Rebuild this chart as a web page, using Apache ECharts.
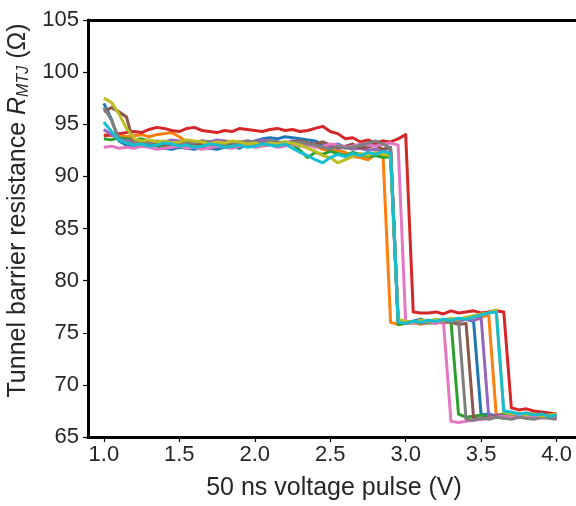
<!DOCTYPE html>
<html>
<head>
<meta charset="utf-8">
<script src="https://cdn.jsdelivr.net/npm/echarts@6/dist/echarts.min.js"></script>
<style>
  html, body { margin: 0; padding: 0; background: #fff; }
  #chart { width: 576px; height: 506px; }
</style>
</head>
<body>
<div id="chart"></div>
<script>
// Pulse amplitude (V) for each measurement step
const voltage = [
  1.00, 1.05, 1.10, 1.15, 1.20, 1.25, 1.30, 1.35, 1.40, 1.45,
  1.50, 1.55, 1.60, 1.65, 1.70, 1.75, 1.80, 1.85, 1.90, 1.95,
  2.00, 2.05, 2.10, 2.15, 2.20, 2.25, 2.30, 2.35, 2.40, 2.45,
  2.50, 2.55, 2.60, 2.65, 2.70, 2.75, 2.80, 2.85, 2.90, 2.95,
  3.00, 3.05, 3.10, 3.15, 3.20, 3.25, 3.30, 3.35, 3.40, 3.45,
  3.50, 3.55, 3.60, 3.65, 3.70, 3.75, 3.80, 3.85, 3.90, 3.95,
  4.00
];

// Tunnel barrier resistance (Ohm) of each device after every pulse
const devBlue = [
  97.0, 95.5, 93.4, 93.0, 92.8, 92.9, 93.1, 92.9, 92.7, 92.6,
  92.8, 92.7, 92.6, 92.8, 92.7, 92.6, 92.8, 92.9, 92.7, 93.1,
  93.4, 93.6, 93.7, 93.6, 93.8, 93.7, 93.6, 93.5, 93.4, 93.0,
  92.9, 93.1, 92.8, 93.0, 92.7, 92.9, 93.2, 93.4, 92.5, 76.2,
  76.0, 76.1, 76.3, 76.0, 76.2, 76.1, 76.0, 76.2, 76.3, 76.1,
  67.1, 67.2, 67.0, 67.1, 67.2, 67.0, 67.1, 67.2, 67.0, 67.1,
  67.0
];
const devOrange = [
  94.0, 93.9, 94.0, 93.8, 93.9, 94.0, 93.8, 94.0, 94.1, 94.2,
  93.8, 93.3, 93.2, 93.4, 93.3, 93.2, 93.4, 93.3, 93.1, 93.2,
  93.3, 93.4, 93.2, 93.3, 93.1, 93.2, 93.4, 93.2, 92.9, 92.6,
  92.4, 92.5, 92.3, 91.9, 91.8, 91.6, 92.1, 91.9, 76.0, 75.8,
  75.9, 76.0, 75.8, 76.0, 76.1, 75.9, 76.1, 76.3, 76.4, 76.6,
  76.5, 76.7, 67.1, 67.2, 67.0, 67.1, 67.3, 67.2, 67.1, 67.0,
  67.2
];
const devGreen = [
  93.6, 93.5, 93.7, 93.6, 93.5, 93.6, 93.4, 93.0, 92.9, 93.1,
  93.0, 93.2, 93.1, 93.0, 93.2, 93.1, 93.0, 93.2, 93.3, 93.1,
  93.2, 93.3, 93.1, 93.2, 93.3, 93.1, 92.5, 91.8, 92.3, 92.1,
  92.4, 92.2, 92.0, 92.3, 92.1, 91.9, 92.0, 91.8, 91.9, 75.8,
  75.9, 76.0, 76.1, 75.9, 76.0, 76.2, 76.1, 67.2, 66.9, 67.0,
  67.1, 66.9, 67.0, 67.2, 67.0, 66.9, 67.1, 67.0, 67.2, 67.1,
  67.0
];
const devRed = [
  93.9, 94.0, 94.1, 94.2, 94.3, 94.2, 94.5, 94.7, 94.6, 94.4,
  94.3, 94.6, 94.7, 94.4, 94.3, 94.2, 94.4, 94.3, 94.6, 94.5,
  94.4, 94.3, 94.5, 94.6, 94.4, 94.5, 94.3, 94.4, 94.6, 94.8,
  94.3, 94.1, 93.6, 93.7, 93.3, 93.5, 93.2, 93.4, 93.3, 93.6,
  94.0, 77.0, 76.9, 76.9, 77.0, 76.8, 77.1, 76.9, 77.0, 77.1,
  76.9, 77.0, 77.1, 77.0, 67.8, 67.6, 67.7, 67.5, 67.4, 67.3,
  67.2
];
const devPurple = [
  94.5, 94.0, 93.6, 93.4, 93.5, 93.3, 93.4, 93.2, 93.3, 93.5,
  93.4, 93.3, 93.2, 93.4, 93.3, 93.5, 93.4, 93.2, 93.3, 93.4,
  93.3, 93.5, 93.4, 93.3, 93.2, 93.4, 93.3, 93.1, 93.0, 92.8,
  92.9, 92.7, 92.8, 92.6, 92.7, 92.5, 92.6, 92.4, 92.3, 76.0,
  76.1, 75.9, 76.0, 76.2, 76.1, 76.0, 76.2, 76.1, 76.3, 76.2,
  76.4, 67.0, 67.1, 67.0, 66.9, 67.1, 67.0, 67.2, 67.1, 67.0,
  67.1
];
const devBrown = [
  96.2, 96.6, 96.2, 95.7, 93.0, 93.1, 93.3, 93.2, 93.0, 93.1,
  93.2, 93.3, 93.1, 93.2, 93.0, 93.1, 93.3, 93.2, 93.1, 93.0,
  93.2, 93.1, 93.3, 93.2, 93.0, 93.3, 93.4, 93.2, 93.1, 93.3,
  93.0, 92.8, 92.9, 93.1, 92.7, 92.8, 93.0, 92.6, 92.8, 76.1,
  75.9, 76.0, 76.2, 76.0, 75.9, 76.1, 76.0, 75.8, 75.9, 66.8,
  66.7, 66.9, 67.0, 66.8, 66.9, 67.0, 66.8, 66.9, 67.0, 66.9,
  66.8
];
const devPink = [
  92.8, 92.9, 92.7, 92.8, 92.7, 92.9, 92.8, 92.6, 92.7, 92.8,
  92.9, 92.7, 92.8, 92.6, 92.7, 92.9, 92.8, 92.7, 92.9, 93.0,
  92.8, 92.9, 93.0, 92.8, 92.9, 93.1, 92.9, 93.0, 92.8, 92.9,
  93.1, 93.0, 92.8, 92.9, 93.1, 93.0, 92.9, 93.1, 93.2, 93.0,
  76.0, 75.9, 76.1, 76.0, 75.9, 76.1, 66.5, 66.4, 66.5, 66.6,
  66.7, 66.8, 66.9, 67.0, 66.9, 67.0, 66.9, 67.0, 66.8, 66.9,
  66.8
];
const devGray = [
  96.6, 95.4, 93.6, 93.2, 93.3, 93.1, 93.2, 93.4, 93.3, 93.2,
  93.1, 93.3, 93.2, 93.4, 93.3, 93.2, 93.1, 93.3, 93.2, 93.4,
  93.3, 93.2, 93.4, 93.3, 93.1, 93.2, 93.3, 93.1, 93.0, 92.8,
  92.6, 92.9, 92.7, 92.8, 93.0, 93.2, 93.4, 93.1, 92.7, 76.2,
  76.0, 76.1, 75.9, 76.0, 76.2, 76.1, 76.0, 76.2, 66.7, 66.6,
  66.8, 66.7, 66.9, 66.8, 66.7, 66.9, 66.8, 66.7, 66.9, 66.8,
  66.7
];
const devOlive = [
  97.5, 97.1, 96.0, 94.6, 93.6, 93.4, 93.5, 93.3, 93.4, 93.2,
  93.3, 93.5, 93.4, 93.3, 93.1, 93.3, 93.2, 93.4, 93.3, 93.1,
  93.2, 93.0, 93.2, 93.1, 93.3, 93.2, 93.0, 92.7, 92.4, 92.0,
  91.8, 91.3, 91.6, 91.9, 92.2, 92.0, 92.3, 92.1, 92.0, 76.3,
  76.1, 76.0, 76.2, 76.1, 76.3, 76.2, 76.4, 76.3, 76.5, 76.6,
  76.8, 76.9, 77.2, 67.4, 67.2, 67.3, 67.1, 67.2, 67.0, 67.1,
  67.2
];
const devCyan = [
  95.2, 94.3, 93.5, 93.2, 93.0, 93.1, 92.9, 93.0, 93.2, 93.1,
  92.9, 93.0, 92.8, 92.9, 93.1, 93.0, 92.8, 92.9, 93.0, 92.8,
  92.9, 93.1, 93.0, 92.9, 93.1, 92.7, 92.3, 92.0, 91.6, 91.3,
  91.8, 92.1, 91.9, 92.2, 92.0, 92.3, 92.1, 92.4, 92.2, 76.0,
  75.9, 76.1, 76.0, 76.2, 76.1, 76.3, 76.2, 76.4, 76.3, 76.5,
  76.7, 76.9, 77.0, 67.5, 67.4, 67.2, 67.3, 67.1, 67.2, 67.0,
  67.1
];

const devices = [devBlue, devOrange, devGreen, devRed, devPurple,
                 devBrown, devPink, devGray, devOlive, devCyan];
const palette = ['#1f77b4', '#ff7f0e', '#2ca02c', '#d62728', '#9467bd',
                 '#8c564b', '#e377c2', '#7f7f7f', '#bcbd22', '#17becf'];

const xTicks = [1.0, 1.5, 2.0, 2.5, 3.0, 3.5, 4.0];

const font = '"Liberation Sans", Arial, sans-serif';
const textColor = '#262626';

const chart = echarts.init(document.getElementById('chart'), null, { renderer: 'canvas' });

const series = devices.map((vals, k) => ({
  type: 'line',
  data: voltage.map((v, i) => [v, vals[i]]),
  showSymbol: false,
  symbol: 'none',
  lineStyle: { width: 3, color: palette[k], join: 'round' },
  itemStyle: { color: palette[k] },
  z: 2 + k,
  animation: false
}));

chart.setOption({
  animation: false,
  backgroundColor: '#fff',
  grid: {
    left: 88, top: 20, right: -4, bottom: 69,
    containLabel: false,
    outerBoundsMode: 'none'
  },
  xAxis: [{
    type: 'value',
    min: 0.895,
    max: 4.155,
    position: 'bottom',
    name: '50 ns voltage pulse (V)',
    nameLocation: 'middle',
    nameGap: 39,
    nameTextStyle: { fontFamily: font, fontSize: 25, color: textColor },
    splitLine: { show: false },
    axisLine: { show: true, lineStyle: { color: '#000', width: 3 } },
    axisTick: {
      show: true, inside: false, length: 5,
      customValues: xTicks,
      lineStyle: { color: '#000', width: 1.2 }
    },
    axisLabel: {
      customValues: xTicks,
      formatter: v => v.toFixed(1),
      fontFamily: font, fontSize: 22, color: textColor, margin: 7
    }
  }, {
    type: 'value',
    min: 0.895,
    max: 4.155,
    position: 'top',
    splitLine: { show: false },
    axisLine: { show: true, lineStyle: { color: '#000', width: 3 } },
    axisTick: { show: false },
    axisLabel: { show: false }
  }],
  yAxis: {
    type: 'value',
    min: 65,
    max: 105,
    interval: 5,
    name: 'Tunnel barrier resistance {it|R}{sub|MTJ} (Ω)',
    nameLocation: 'middle',
    nameRotate: 90,
    nameGap: 55,
    nameTextStyle: {
      fontFamily: font, fontSize: 25, color: textColor,
      padding: [0, 0, 0, 36],
      rich: {
        it: { fontFamily: font, fontSize: 25, fontStyle: 'italic', color: textColor },
        sub: { fontFamily: font, fontSize: 16, fontStyle: 'italic', color: textColor, verticalAlign: 'bottom', padding: [10, 0, 0, 0] }
      }
    },
    splitLine: { show: false },
    axisLine: { show: true, lineStyle: { color: '#000', width: 3 } },
    axisTick: { show: true, inside: false, length: 5, lineStyle: { color: '#000', width: 1.2 } },
    axisLabel: { fontFamily: font, fontSize: 22, color: textColor, margin: 9 }
  },
  series: series
});
</script>
</body>
</html>
